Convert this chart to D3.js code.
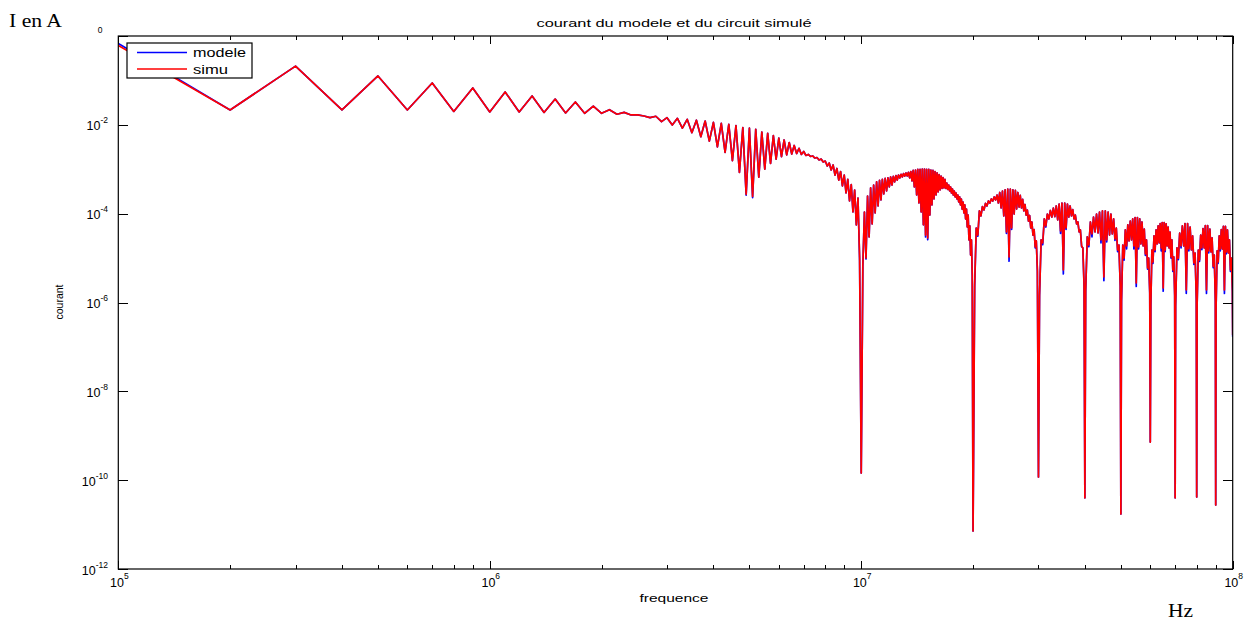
<!DOCTYPE html>
<html><head><meta charset="utf-8">
<script src="https://cdn.jsdelivr.net/npm/d3@7"></script>
<style>body{margin:0;background:#fff}svg{display:block}</style>
</head><body>
<svg id="c" width="1254" height="623"></svg>
<script>
// ---------- DATA (frequency in MHz, current in A) ----------
const freqMHz = [
 0.1,0.2,0.3,0.4,0.5,0.6,0.7,0.8,0.9,1.0,
 1.1,1.2,1.3,1.4,1.5,1.6,1.7,1.8,1.9,2.0,
 2.1,2.2,2.3,2.4,2.5,2.6,2.7,2.8,2.9,3.0,
 3.1,3.2,3.3,3.4,3.5,3.6,3.7,3.8,3.9,4.0,
 4.1,4.2,4.3,4.4,4.5,4.6,4.7,4.8,4.9,5.0,
 5.1,5.2,5.3,5.4,5.5,5.6,5.7,5.8,5.9,6.0,
 6.1,6.2,6.3,6.4,6.5,6.6,6.7,6.8,6.9,7.0,
 7.1,7.2,7.3,7.4,7.5,7.6,7.7,7.8,7.9,8.0,
 8.1,8.2,8.3,8.4,8.5,8.6,8.7,8.8,8.9,9.0,
 9.1,9.2,9.3,9.4,9.5,9.6,9.7,9.8,9.9,10.0,
 10.1,10.2,10.3,10.4,10.5,10.6,10.7,10.8,10.9,11.0,
 11.1,11.2,11.3,11.4,11.5,11.6,11.7,11.8,11.9,12.0,
 12.1,12.2,12.3,12.4,12.5,12.6,12.7,12.8,12.9,13.0,
 13.1,13.2,13.3,13.4,13.5,13.6,13.7,13.8,13.9,14.0,
 14.1,14.2,14.3,14.4,14.5,14.6,14.7,14.8,14.9,15.0,
 15.1,15.2,15.3,15.4,15.5,15.6,15.7,15.8,15.9,16.0,
 16.1,16.2,16.3,16.4,16.5,16.6,16.7,16.8,16.9,17.0,
 17.1,17.2,17.3,17.4,17.5,17.6,17.7,17.8,17.9,18.0,
 18.1,18.2,18.3,18.4,18.5,18.6,18.7,18.8,18.9,19.0,
 19.1,19.2,19.3,19.4,19.5,19.6,19.7,19.8,19.9,20.0,
 20.2,20.4,20.6,20.8,21.0,21.2,21.4,21.6,21.8,22.0,
 22.2,22.4,22.6,22.8,23.0,23.2,23.4,23.6,23.8,24.0,
 24.2,24.4,24.6,24.8,25.0,25.2,25.4,25.6,25.8,26.0,
 26.2,26.4,26.6,26.8,27.0,27.2,27.4,27.6,27.8,28.0,
 28.2,28.4,28.6,28.8,29.0,29.2,29.4,29.6,29.8,30.0,
 30.2,30.5,30.8,31.1,31.4,31.7,32.0,32.3,32.6,32.9,33.2,33.5,33.8,34.1,34.4,34.7,35.0,
 35.3,35.6,35.9,36.2,36.5,36.8,37.1,37.4,37.7,38.0,38.3,38.6,38.9,39.2,39.5,39.8,40.0,
 40.2,40.6,41.0,41.4,41.8,42.2,42.6,43.0,43.4,43.8,44.2,44.6,45.0,
 45.4,45.8,46.2,46.6,47.0,47.4,47.8,48.2,48.6,49.0,49.4,49.8,50.0,
 50.2,50.6,51.0,51.4,51.8,52.2,52.6,53.0,53.4,53.8,54.2,54.6,55.0,
 55.4,55.8,56.2,56.6,57.0,57.4,57.8,58.2,58.6,59.0,59.4,59.8,60.0,
 60.2,60.6,61.0,61.4,61.8,62.2,62.6,63.0,63.4,63.8,64.2,64.6,65.0,
 65.4,65.8,66.2,66.6,67.0,67.4,67.8,68.2,68.6,69.0,69.4,69.8,70.0,
 70.2,70.8,71.4,72.0,72.6,73.2,73.8,74.4,75.0,75.6,76.2,76.8,77.4,78.0,78.6,79.2,79.8,80.0,
 80.2,80.8,81.4,82.0,82.6,83.2,83.8,84.4,85.0,85.6,86.2,86.8,87.4,88.0,88.6,89.2,89.8,90.0,
 90.2,90.8,91.4,92.0,92.6,93.2,93.8,94.4,95.0,95.6,96.2,96.8,97.4,98.0,98.6,99.2,99.8,100.0
];
const simu = [
 6.1e-1,2.16e-2,2.1e-1,2.16e-2,1.26e-1,2.16e-2,8.75e-2,2.0e-2,6.75e-2,1.95e-2,
 5.5e-2,1.95e-2,4.46e-2,1.9e-2,3.8e-2,1.85e-2,3.27e-2,1.82e-2,2.65e-2,1.82e-2,
 2.19e-2,1.73e-2,1.91e-2,1.67e-2,1.67e-2,1.58e-2,1.45e-2,1.56e-2,1.18e-2,1.45e-2,
 9.9e-3,1.4e-2,8.4e-3,1.33e-2,6.65e-3,1.27e-2,5.4e-3,1.22e-2,4.3e-3,1.14e-2,
 3.2e-3,1.08e-2,2.4e-3,1.03e-2,1.56e-3,9.6e-3,8.5e-4,8.7e-3,2.73e-4,8.4e-3,
 2.44e-4,7.9e-3,6.6e-4,6.9e-3,1.0e-3,6.4e-3,1.36e-3,5.75e-3,1.68e-3,5.05e-3,
 1.92e-3,4.56e-3,2.1e-3,4.0e-3,2.2e-3,3.43e-3,2.26e-3,2.96e-3,2.15e-3,2.51e-3,
 2.04e-3,2.15e-3,1.94e-3,1.99e-3,1.79e-3,1.84e-3,1.62e-3,1.7e-3,1.46e-3,1.53e-3,
 1.18e-3,1.38e-3,9.6e-4,1.25e-3,7.4e-4,1.04e-3,5.7e-4,8.9e-4,4.2e-4,7.4e-4,
 2.92e-4,5.9e-4,1.93e-4,4.54e-4,1.09e-4,3.41e-4,5.6e-5,2.25e-4,1.0e-5,1.45e-10,
 7.0e-6,1.09e-4,1.0e-5,2.5e-4,3.0e-5,3.79e-4,5.9e-5,4.42e-4,1.04e-4,5.2e-4,
 1.49e-4,5.6e-4,2.03e-4,5.9e-4,2.77e-4,6.2e-4,3.24e-4,6.4e-4,3.99e-4,6.7e-4,
 4.42e-4,6.95e-4,5.2e-4,7.2e-4,5.7e-4,7.4e-4,6.4e-4,7.7e-4,6.7e-4,8.0e-4,
 7.05e-4,8.25e-4,7.05e-4,8.55e-4,6.4e-4,8.9e-4,5.45e-4,9.4e-4,3.99e-4,9.6e-4,
 2.63e-4,9.9e-4,1.74e-4,1.0e-3,1.09e-4,1.01e-3,5.6e-5,1.01e-3,3.3e-5,1.0e-3,
 2.84e-5,9.9e-4,9.3e-5,9.6e-4,1.57e-4,9.4e-4,2.14e-4,8.9e-4,2.63e-4,8.25e-4,
 3.08e-4,7.6e-4,3.41e-4,7.05e-4,3.69e-4,6.5e-4,3.79e-4,5.9e-4,3.69e-4,4.9e-4,
 3.5e-4,4.42e-4,3.24e-4,3.99e-4,2.92e-4,3.6e-4,2.63e-4,3.24e-4,2.38e-4,2.92e-4,
 2.14e-4,2.63e-4,1.83e-4,2.38e-4,1.57e-4,2.14e-4,1.27e-4,1.83e-4,1.04e-4,1.57e-4,
 7.6e-5,1.27e-4,5.0e-5,9.3e-5,2.56e-5,5.3e-5,1.17e-5,2.56e-5,4.2e-6,7.2e-12,
 2.48e-6,4.76e-5,3.3e-5,1.15e-4,8.9e-5,1.45e-4,1.21e-4,1.7e-4,1.49e-4,1.93e-4,
 1.74e-4,2.14e-4,1.93e-4,2.38e-4,2.03e-4,2.63e-4,1.74e-4,3.0e-4,1.34e-4,3.24e-4,
 8.9e-5,3.45e-4,3.87e-5,3.56e-4,1.06e-5,3.56e-4,4.76e-5,3.45e-4,9.8e-5,3.33e-4,
 1.27e-4,3.0e-4,1.41e-4,2.57e-4,1.34e-4,2.09e-4,1.15e-4,1.61e-4,9.3e-5,1.21e-4,
 6.8e-5,9.1e-5,4.76e-5,6.5e-5,3.3e-5,4.4e-5,1.78e-5,2.43e-5,5.4e-6,1.18e-10,
 1.48e-6,2.56e-5,2.19e-5,7.6e-5,5.3e-5,9.8e-5,7.6e-5,1.18e-4,8.4e-5,1.34e-4,8.6e-5,1.49e-4,7.2e-5,1.65e-4,4.07e-5,1.74e-4,5.4e-6,
 1.74e-4,4.76e-5,1.65e-4,8.4e-5,1.49e-4,8.9e-5,1.24e-4,7.6e-5,9.3e-5,5.9e-5,6.5e-5,3.87e-5,4.3e-5,1.87e-5,1.69e-5,2.48e-6,4.0e-11,
 1.91e-6,3.0e-5,1.97e-5,6.5e-5,3.49e-5,8.4e-5,3.87e-5,9.8e-5,3.67e-5,1.09e-4,2.56e-5,1.15e-4,3.76e-6,
 1.15e-4,2.56e-5,1.09e-4,3.3e-5,9.8e-5,3.49e-5,7.6e-5,2.69e-5,4.76e-5,1.52e-5,1.97e-5,2.48e-6,1.73e-11,
 1.14e-6,1.97e-5,1.0e-5,4.3e-5,1.87e-5,5.6e-5,2.43e-5,6.8e-5,2.56e-5,7.6e-5,1.87e-5,8.2e-5,2.75e-6,
 8.2e-5,1.78e-5,7.6e-5,2.08e-5,6.5e-5,1.87e-5,4.5e-5,1.24e-5,2.56e-5,6.0e-6,1.0e-5,1.73e-6,7.2e-10,
 8.8e-7,1.52e-5,8.2e-6,3.15e-5,1.52e-5,4.3e-5,2.08e-5,5.3e-5,2.19e-5,6.0e-5,1.69e-5,6.3e-5,2.12e-6,
 6.3e-5,1.52e-5,5.9e-5,1.87e-5,5.0e-5,1.69e-5,3.87e-5,1.06e-5,2.56e-5,5.4e-6,1.06e-5,1.48e-6,4.0e-11,
 8.8e-7,1.69e-5,1.0e-5,3.67e-5,1.87e-5,5.3e-5,1.87e-5,6.0e-5,1.91e-6,6.0e-5,1.6e-5,5.0e-5,1.52e-5,3.15e-5,7.8e-6,1.3e-5,1.26e-6,4.2e-11,
 8.8e-7,1.52e-5,9.1e-6,3.3e-5,1.69e-5,4.64e-5,1.69e-5,5.4e-5,1.91e-6,5.4e-5,1.45e-5,4.5e-5,1.37e-5,2.84e-5,6.6e-6,1.17e-5,1.14e-6,2.77e-11,
 7.5e-7,1.45e-5,8.2e-6,3.15e-5,1.6e-5,4.4e-5,1.6e-5,5.15e-5,1.91e-6,5.15e-5,1.37e-5,4.3e-5,1.3e-5,2.56e-5,5.4e-6,1.0e-5,1.91e-6,1.86e-7
];
const modele = [
 6.8e-1,2.16e-2,2.1e-1,2.16e-2,1.26e-1,2.16e-2,8.75e-2,2.0e-2,6.75e-2,1.95e-2,
 5.5e-2,1.95e-2,4.46e-2,1.9e-2,3.8e-2,1.85e-2,3.27e-2,1.82e-2,2.65e-2,1.82e-2,
 2.19e-2,1.73e-2,1.91e-2,1.67e-2,1.67e-2,1.58e-2,1.45e-2,1.56e-2,1.18e-2,1.45e-2,
 9.9e-3,1.4e-2,8.4e-3,1.33e-2,6.65e-3,1.27e-2,5.4e-3,1.22e-2,4.3e-3,1.14e-2,
 3.2e-3,1.08e-2,2.4e-3,1.03e-2,1.56e-3,9.6e-3,8.5e-4,8.7e-3,2.6e-4,8.4e-3,
 2.3e-4,7.9e-3,6.6e-4,6.9e-3,1.0e-3,6.4e-3,1.36e-3,5.75e-3,1.68e-3,5.05e-3,
 1.92e-3,4.56e-3,2.1e-3,4.0e-3,2.2e-3,3.43e-3,2.26e-3,2.96e-3,2.15e-3,2.51e-3,
 2.04e-3,2.15e-3,1.94e-3,1.99e-3,1.79e-3,1.84e-3,1.62e-3,1.7e-3,1.46e-3,1.53e-3,
 1.18e-3,1.38e-3,9.6e-4,1.25e-3,7.4e-4,1.04e-3,5.7e-4,8.9e-4,4.2e-4,7.4e-4,
 2.92e-4,5.9e-4,1.93e-4,4.54e-4,1.09e-4,3.41e-4,5.6e-5,2.25e-4,9.0e-6,1.45e-10,
 6.5e-6,1.09e-4,9.5e-6,2.5e-4,3.0e-5,3.79e-4,5.9e-5,4.42e-4,1.04e-4,5.2e-4,
 1.49e-4,5.6e-4,2.03e-4,5.9e-4,2.77e-4,6.2e-4,3.24e-4,6.4e-4,3.99e-4,6.7e-4,
 4.42e-4,6.95e-4,5.2e-4,7.2e-4,5.7e-4,7.4e-4,6.4e-4,7.7e-4,6.7e-4,8.0e-4,
 7.05e-4,8.25e-4,7.05e-4,8.55e-4,6.4e-4,8.9e-4,5.45e-4,9.4e-4,3.99e-4,9.6e-4,
 2.63e-4,9.9e-4,1.74e-4,1.0e-3,1.09e-4,1.01e-3,5.6e-5,1.01e-3,3.0e-5,1.0e-3,
 2.6e-5,9.9e-4,9.3e-5,9.6e-4,1.57e-4,9.4e-4,2.14e-4,8.9e-4,2.63e-4,8.25e-4,
 3.08e-4,7.6e-4,3.41e-4,7.05e-4,3.69e-4,6.5e-4,3.79e-4,5.9e-4,3.69e-4,4.9e-4,
 3.5e-4,4.42e-4,3.24e-4,3.99e-4,2.92e-4,3.6e-4,2.63e-4,3.24e-4,2.38e-4,2.92e-4,
 2.14e-4,2.63e-4,1.83e-4,2.38e-4,1.57e-4,2.14e-4,1.27e-4,1.83e-4,1.04e-4,1.57e-4,
 7.6e-5,1.27e-4,5.0e-5,9.3e-5,2.56e-5,5.3e-5,1.17e-5,2.56e-5,4.0e-6,7.2e-12,
 2.3e-6,4.76e-5,3.1e-5,1.15e-4,8.9e-5,1.45e-4,1.21e-4,1.7e-4,1.49e-4,1.93e-4,
 1.74e-4,2.14e-4,1.93e-4,2.38e-4,2.03e-4,2.63e-4,1.74e-4,3.0e-4,1.34e-4,3.24e-4,
 8.9e-5,3.45e-4,3.6e-5,3.56e-4,8.5e-6,3.56e-4,4.4e-5,3.45e-4,9.8e-5,3.33e-4,
 1.27e-4,3.0e-4,1.41e-4,2.57e-4,1.34e-4,2.09e-4,1.15e-4,1.61e-4,9.3e-5,1.21e-4,
 6.8e-5,9.1e-5,4.76e-5,6.5e-5,3.3e-5,4.4e-5,1.7e-5,2.43e-5,5.0e-6,1.18e-10,
 1.4e-6,2.56e-5,2.0e-5,7.6e-5,5.0e-5,9.8e-5,7.6e-5,1.18e-4,8.4e-5,1.34e-4,8.6e-5,1.49e-4,7.2e-5,1.65e-4,3.6e-5,1.74e-4,4.4e-6,
 1.74e-4,4.4e-5,1.65e-4,8.4e-5,1.49e-4,8.9e-5,1.24e-4,7.6e-5,9.3e-5,5.9e-5,6.5e-5,3.87e-5,4.3e-5,1.8e-5,1.69e-5,2.3e-6,4.0e-11,
 1.8e-6,3.0e-5,1.8e-5,6.5e-5,3.0e-5,8.4e-5,3.87e-5,9.8e-5,3.67e-5,1.09e-4,2.2e-5,1.15e-4,3.1e-6,
 1.15e-4,2.3e-5,1.09e-4,3.3e-5,9.8e-5,3.49e-5,7.6e-5,2.5e-5,4.76e-5,1.4e-5,1.97e-5,2.3e-6,1.73e-11,
 1.05e-6,1.97e-5,9.0e-6,4.3e-5,1.6e-5,5.6e-5,2.43e-5,6.8e-5,2.56e-5,7.6e-5,1.6e-5,8.2e-5,2.3e-6,
 8.2e-5,1.6e-5,7.6e-5,2.08e-5,6.5e-5,1.87e-5,4.5e-5,1.15e-5,2.56e-5,5.6e-6,1.0e-5,1.6e-6,7.2e-10,
 8.2e-7,1.52e-5,7.6e-6,3.15e-5,1.4e-5,4.3e-5,2.08e-5,5.3e-5,2.19e-5,6.0e-5,1.45e-5,6.3e-5,1.8e-6,
 6.3e-5,1.4e-5,5.9e-5,1.87e-5,5.0e-5,1.69e-5,3.87e-5,1.0e-5,2.56e-5,5.0e-6,1.06e-5,1.4e-6,4.0e-11,
 8.2e-7,1.69e-5,9.2e-6,3.67e-5,1.7e-5,5.3e-5,1.87e-5,6.0e-5,1.6e-6,6.0e-5,1.45e-5,5.0e-5,1.52e-5,3.15e-5,7.2e-6,1.3e-5,1.15e-6,4.2e-11,
 8.2e-7,1.52e-5,8.4e-6,3.3e-5,1.55e-5,4.64e-5,1.69e-5,5.4e-5,1.6e-6,5.4e-5,1.3e-5,4.5e-5,1.37e-5,2.84e-5,6.1e-6,1.17e-5,1.05e-6,2.77e-11,
 7.0e-7,1.45e-5,7.6e-6,3.15e-5,1.45e-5,4.4e-5,1.6e-5,5.15e-5,1.6e-6,5.15e-5,1.25e-5,4.3e-5,1.3e-5,2.56e-5,5.0e-6,1.0e-5,1.75e-6,1.7e-7
];
const seriesNames = ["modele", "simu"];
const seriesColors = ["#0000ff", "#ff0000"];
const xTickExponents = [5, 6, 7, 8];
const yTickExponents = [-2, -4, -6, -8, -10, -12];
const titleText = "courant du modele et du circuit simulé";
const xLabelText = "frequence";
const yLabelText = "courant";

// ---------- LAYOUT ----------
const W = 1254, H = 623;
const P = {left: 118.3, right: 1232.7, top: 36, bottom: 569};
const FONT = "'Liberation Sans', Arial, Helvetica, sans-serif";
const SERIF = "'Liberation Serif', 'Times New Roman', serif";

const x = d3.scaleLog().domain([1e5, 1e8]).range([P.left, P.right]);
const y = d3.scaleLog().domain([1e-12, 1]).range([P.bottom, P.top]);

const svg = d3.select("#c");
svg.append("rect").attr("width", W).attr("height", H).attr("fill", "#fff");

svg.append("defs").append("clipPath").attr("id", "clip")
  .append("rect").attr("x", P.left).attr("y", P.top)
  .attr("width", P.right - P.left).attr("height", P.bottom - P.top);

// series
const line = d3.line().x(d => x(d[0])).y(d => y(d[1]));
const plot = svg.append("g").attr("clip-path", "url(#clip)");
[modele, simu].forEach((vals, k) => {
  const pts = freqMHz.map((f, i) => [f * 1e6, vals[i]]).filter(d => d[1] > 0);
  plot.append("path").datum(pts)
    .attr("d", line).attr("fill", "none")
    .attr("stroke", seriesColors[k]).attr("stroke-width", 1.7)
    .attr("stroke-linejoin", "round");
});

// axes (ticks inward)
const majorX = xTickExponents.map(e => Math.pow(10, e));
const minorX = [];
xTickExponents.slice(0, -1).forEach(e => { for (let m = 2; m <= 9; m++) minorX.push(m * Math.pow(10, e)); });
const majorY = [0].concat(yTickExponents).map(e => Math.pow(10, e));

function axisG(axis, tx, ty) {
  const g = svg.append("g").attr("transform", `translate(${tx},${ty})`).call(axis);
  g.select(".domain").remove();
  g.selectAll("line").attr("stroke", "#000").attr("stroke-width", 1).attr("shape-rendering", "crispEdges");
  return g;
}
axisG(d3.axisBottom(x).tickValues(majorX).tickSize(-8).tickFormat(""), 0, P.bottom);
axisG(d3.axisBottom(x).tickValues(minorX).tickSize(-4).tickFormat(""), 0, P.bottom);
axisG(d3.axisTop(x).tickValues(majorX).tickSize(-8).tickFormat(""), 0, P.top);
axisG(d3.axisTop(x).tickValues(minorX).tickSize(-4).tickFormat(""), 0, P.top);
axisG(d3.axisLeft(y).tickValues(majorY).tickSize(-10).tickFormat(""), P.left, 0);
axisG(d3.axisRight(y).tickValues(majorY).tickSize(-10).tickFormat(""), P.right, 0);

// frame
svg.append("rect").attr("x", P.left).attr("y", P.top)
  .attr("width", P.right - P.left).attr("height", P.bottom - P.top)
  .attr("fill", "none").attr("stroke", "#000").attr("stroke-width", 1.2);

// x tick labels 10^e
xTickExponents.forEach(e => {
  const t = svg.append("text").attr("x", x(Math.pow(10, e)) + 1).attr("y", 587)
    .attr("text-anchor", "middle").attr("font-family", FONT).attr("font-size", 12.5).attr("fill", "#000");
  t.append("tspan").text("10");
  t.append("tspan").attr("dy", -8).attr("font-size", 8.5).text(e);
});
// y tick labels
yTickExponents.forEach(e => {
  const t = svg.append("text").attr("x", 108).attr("y", y(Math.pow(10, e)) + 5.5)
    .attr("text-anchor", "end").attr("font-family", FONT).attr("font-size", 12.5).attr("fill", "#000");
  t.append("tspan").text("10");
  t.append("tspan").attr("dy", -7).attr("font-size", 8.5).text(e);
});
// top "0" exponent
svg.append("text").attr("x", 100).attr("y", 33).attr("text-anchor", "middle")
  .attr("font-family", FONT).attr("font-size", 8.5).text("0");

// title and labels
svg.append("text").attr("x", 674).attr("y", 27).attr("text-anchor", "middle")
  .attr("font-family", FONT).attr("font-size", 11.5)
  .attr("textLength", 275).attr("lengthAdjust", "spacingAndGlyphs").text(titleText);
svg.append("text").attr("x", 674).attr("y", 602).attr("text-anchor", "middle")
  .attr("font-family", FONT).attr("font-size", 11.5)
  .attr("textLength", 69).attr("lengthAdjust", "spacingAndGlyphs").text(xLabelText);
svg.append("text").attr("transform", "translate(63,302) rotate(-90)").attr("text-anchor", "middle")
  .attr("font-family", FONT).attr("font-size", 10.5).text(yLabelText);

svg.append("text").attr("x", 9).attr("y", 27).attr("font-family", SERIF).attr("font-size", 18.5)
  .attr("textLength", 53).attr("lengthAdjust", "spacingAndGlyphs").text("I en A");
svg.append("text").attr("x", 1168).attr("y", 617).attr("font-family", SERIF).attr("font-size", 18.5)
  .attr("textLength", 25).attr("lengthAdjust", "spacingAndGlyphs").text("Hz");

// legend
const lg = svg.append("g");
lg.append("rect").attr("x", 127).attr("y", 43).attr("width", 125).attr("height", 35)
  .attr("fill", "#fff").attr("stroke", "#000").attr("stroke-width", 1.2);
seriesNames.forEach((n, i) => {
  const yy = 52.5 + i * 16.5;
  lg.append("line").attr("x1", 137).attr("x2", 187).attr("y1", yy).attr("y2", yy)
    .attr("stroke", seriesColors[i]).attr("stroke-width", 1.4);
  lg.append("text").attr("x", 193).attr("y", yy + 4.5).attr("font-family", FONT).attr("font-size", 12)
    .attr("textLength", i === 0 ? 53 : 35).attr("lengthAdjust", "spacingAndGlyphs").text(n);
});
</script>
</body></html>
